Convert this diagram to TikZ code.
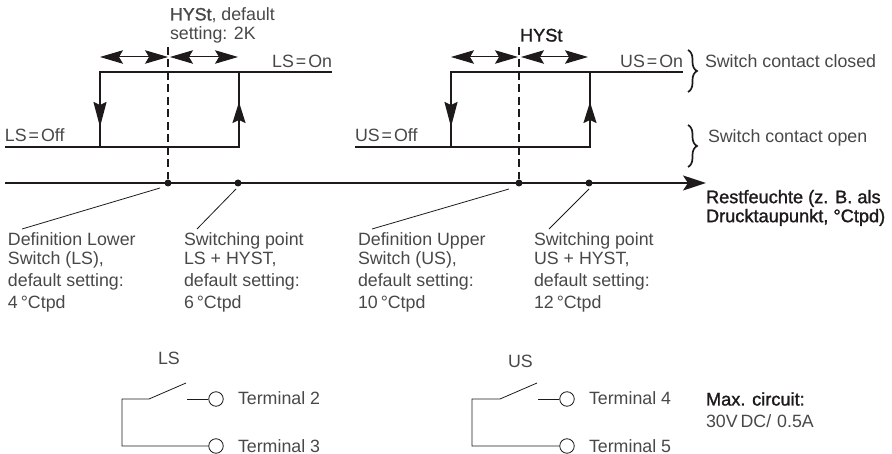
\documentclass[tikz,border=0pt]{standalone}
\usepackage{fontspec}
\setmainfont{Liberation Sans}
\newfontfamily\fbold[FakeBold=1.4]{Liberation Sans}
\usetikzlibrary{arrows.meta,decorations.pathreplacing}
\definecolor{txt}{HTML}{484848}
\definecolor{ln}{HTML}{1E1A1A}
\tikzset{
 x=1pt,y=-1pt,
 lbl/.style={inner sep=0,outer sep=0,anchor=base west,text=txt,font=\fontsize{17.8}{19}\selectfont,align=left},
 blbl/.style={lbl,text=ln,font=\fontsize{18.2}{19}\fbold},
 thick line/.style={draw=ln,line width=1.7pt},
 downhead/.style={-{Stealth[length=25pt,width=13pt,inset=3pt]}},
 uphead/.style={-{Stealth[length=21pt,width=13pt,inset=3pt]}},
 hyst/.style={draw=ln,line width=1pt,{Stealth[length=23pt,width=13.5pt,inset=4pt]}-{Stealth[length=23pt,width=13.5pt,inset=4pt]}},
 dashline/.style={draw=ln,line width=1.8pt,dash pattern=on 8pt off 4.5pt},
 lead/.style={draw=ln,line width=.8pt},
 wire/.style={draw=ln,line width=.8pt},
 dot/.style={circle,fill=ln,inner sep=0,minimum size=7pt},
 term/.style={circle,draw=ln,line width=.8pt,fill=white,inner sep=0,minimum size=14.5pt},
 bracemark/.style={draw=ln,line width=1.7pt,decorate,decoration={brace,amplitude=9pt}},
}
\begin{document}
\begin{tikzpicture}
\useasboundingbox (0,0) rectangle (892,454);
\foreach \n/\x/\y in {a1/5/147,a2/100/147,a3/239/147,a4/100/72,a5/239/72,a6/332/72,
  b1/355/147,b2/451/147,b3/590/147,b4/451/72,b5/590/72,b6/683/72,
  h1/100/57,h2/168/57,h3/170/57,h4/238/57,k1/451/57,k2/518/57,k3/521/57,k4/588/57,
  ax0/5/183,ax1/706/183,d1top/168/47,d2top/519/47}
  \coordinate (\n) at (\x,\y);
\node[dot] (p1) at (168,183) {};
\node[dot] (p2) at (238,183) {};
\node[dot] (p3) at (519,183) {};
\node[dot] (p4) at (589,183) {};
\draw[thick line] (a1)--(a3)--(a5);
\draw[thick line] (a2)--(a4)--(a6);
\draw[thick line] (b1)--(b3)--(b5);
\draw[thick line] (b2)--(b4)--(b6);
\draw[thick line,downhead] (a4)--(100,127);
\draw[thick line,uphead] (a3)--(239,102);
\draw[thick line,downhead] (b4)--(451,127);
\draw[thick line,uphead] (b3)--(590,102);
\draw[dashline] (d1top)--(p1);
\draw[dashline] (d2top)--(p3);
\foreach \s/\e in {h1/h2,h3/h4,k1/k2,k3/k4}
  \draw[hyst] (\s)--(\e);
\draw[thick line,-{Stealth[length=23pt,width=15pt,inset=5pt]}] (ax0)--(ax1);
\draw[bracemark] (688,50)--(688,92);
\draw[bracemark] (688,125)--(688,167);
\node[lbl,anchor=north west] (hy1) at (170,7.5) {{\fbold HYSt}, default\\setting: 2K};
\node[blbl] (hy2) at (520,41.5) {HYSt};
\node[lbl,anchor=base east] (lon) at (332,67.5) {LS\kern.11em=\kern.11em On};
\node[lbl] (loff) at (5,142) {LS\kern.11em=\kern.11em Off};
\node[lbl,anchor=base east] (uon) at (683,67.5) {US\kern.11em=\kern.11em On};
\node[lbl] (uoff) at (355,142) {US\kern.11em=\kern.11em Off};
\node[lbl] (sc) at (705,67.5) {Switch contact closed};
\node[lbl] (so) at (708,142.5) {Switch contact open};
\node[blbl,anchor=north west] (rf) at (706,190) {Restfeuchte (z. B. als\\Drucktaupunkt, °Ctpd)};
\node[lbl,anchor=north west] (t1) at (8,233) {Definition Lower\\Switch (LS),\\[3pt]default setting:\\[3pt]4\,°Ctpd};
\node[lbl,anchor=north west] (t2) at (184,233) {Switching point\\LS + HYST,\\[3pt]default setting:\\[3pt]6\,°Ctpd};
\node[lbl,anchor=north west] (t3) at (358,233) {Definition Upper\\Switch (US),\\[3pt]default setting:\\[3pt]10\,°Ctpd};
\node[lbl,anchor=north west] (t4) at (534,233) {Switching point\\US + HYST,\\[3pt]default setting:\\[3pt]12\,°Ctpd};
\coordinate (l1a) at (160,188); \coordinate (l1b) at (22,229);
\coordinate (l2a) at (236,189); \coordinate (l2b) at (197,229);
\coordinate (l3a) at (509,189); \coordinate (l3b) at (372,229);
\coordinate (l4a) at (589,189); \coordinate (l4b) at (549,229);
\draw[lead] (l1a)--(l1b);
\draw[lead] (l2a)--(l2b);
\draw[lead] (l3a)--(l3b);
\draw[lead] (l4a)--(l4b);
\node[lbl] (ls) at (158,365) {LS};
\node[lbl] (us) at (508,367) {US};
\node[term] (T2) at (216,399) {};
\node[term] (T3) at (216,446) {};
\node[term] (T4) at (567,399) {};
\node[term] (T5) at (567,446) {};
\coordinate (s1a) at (122,399); \coordinate (s1b) at (149,399); \coordinate (s1c) at (186,383); \coordinate (s1d) at (187,399); \coordinate (s1e) at (122,446);
\coordinate (s2a) at (472,399); \coordinate (s2b) at (500,399); \coordinate (s2c) at (537,383); \coordinate (s2d) at (538,399); \coordinate (s2e) at (472,446);
\draw[wire] (T3)--(s1e)--(s1a)--(s1b)--(s1c);
\draw[wire] (s1d)--(T2);
\draw[wire] (T5)--(s2e)--(s2a)--(s2b)--(s2c);
\draw[wire] (s2d)--(T4);
\node[lbl] (n2) at (238,405) {Terminal 2};
\node[lbl] (n3) at (238,452) {Terminal 3};
\node[lbl] (n4) at (589,405) {Terminal 4};
\node[lbl] (n5) at (589,452) {Terminal 5};
\node[blbl] (mc) at (706,405.5) {Max. circuit:};
\node[lbl] (mv) at (706,428) {30V\,DC/\,\,0.5A};
\end{tikzpicture}
\end{document}
